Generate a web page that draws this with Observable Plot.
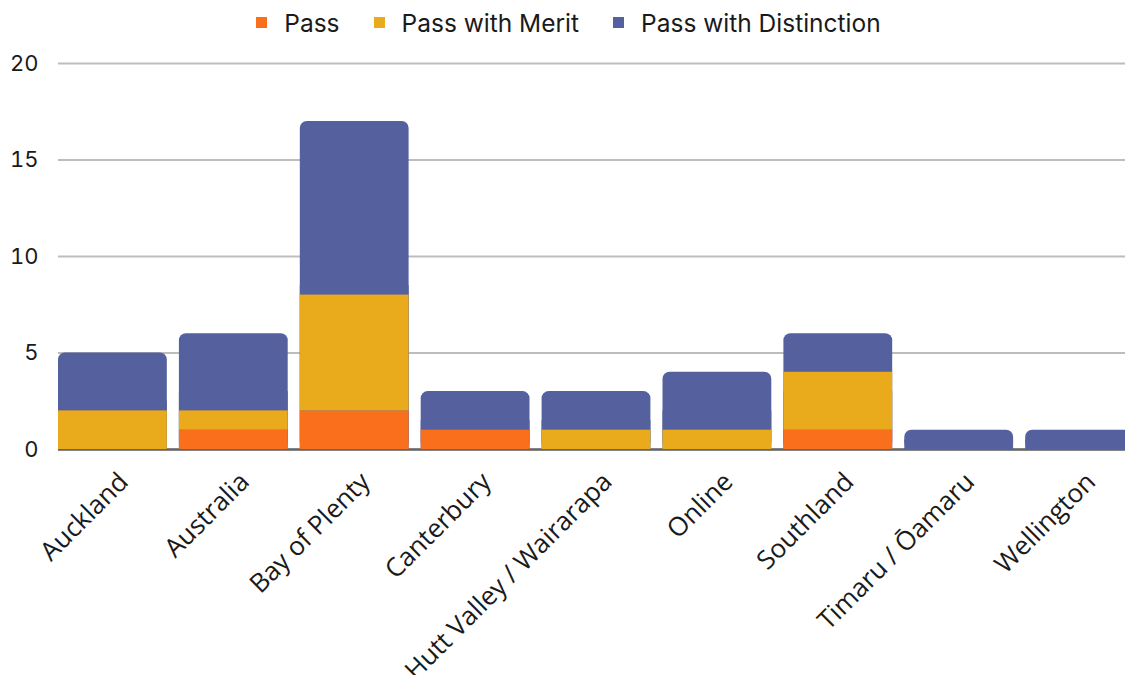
<!DOCTYPE html>
<html>
<head>
<meta charset="utf-8">
<script src="https://cdn.jsdelivr.net/npm/d3@7"></script>
<script src="https://cdn.jsdelivr.net/npm/@observablehq/plot@0.6"></script>
<style>
  html, body { margin: 0; padding: 0; background: #fff; overflow: hidden; width: 1125px; height: 675px; }
  #legend { height: 45px; display: flex; justify-content: center; align-items: center; font-family: Inter, Roboto, sans-serif; font-size: 24.5px; color: #1a1a1a; padding-left: 12px; box-sizing: border-box; }
  #legend .item { display: flex; align-items: center; margin: 0 17px; }
  #legend .sw { width: 11px; height: 11px; margin-right: 17px; }
  #chart svg { overflow: visible; }
</style>
</head>
<body>
<div id="legend"></div>
<div id="chart"></div>
<script>
const regions = ["Auckland", "Australia", "Bay of Plenty", "Canterbury", "Hutt Valley / Wairarapa", "Online", "Southland", "Timaru / Ōamaru", "Wellington"];
const grades = ["Pass", "Pass with Merit", "Pass with Distinction"];
const pass = [0, 1, 2, 1, 0, 0, 1, 0, 0];
const merit = [2, 1, 6, 0, 1, 1, 3, 0, 0];
const distinction = [3, 4, 9, 2, 2, 3, 2, 1, 1];
const colors = ["#F96F1B", "#E9AA1C", "#55619F"];
const yTicks = [0, 5, 10, 15, 20];

const series = [pass, merit, distinction];
const rows = [];
regions.forEach((r, i) => grades.forEach((g, j) => {
  if (series[j][i] > 0) rows.push({region: r, grade: g, count: series[j][i]});
}));
const totals = regions.map((r, i) => ({region: r, total: pass[i] + merit[i] + distinction[i]}));
const lower = rows.filter(d => d.grade !== grades[2]);

// legend
const leg = d3.select("#legend");
grades.forEach((g, j) => {
  const it = leg.append("div").attr("class", "item");
  it.append("div").attr("class", "sw").style("background", colors[j]);
  it.append("span").text(g);
});

const chart = Plot.plot({
  width: 1125,
  height: 630,
  marginTop: 18,
  marginLeft: 58,
  marginRight: -9,
  marginBottom: 226,
  style: {background: "transparent", overflow: "visible"},
  x: {domain: regions, paddingInner: 0.1, paddingOuter: 0, round: false, label: null},
  y: {domain: [0, 20], label: null},
  color: {domain: grades, range: colors},
  marks: [
    Plot.gridY(yTicks, {stroke: "#bdbdbd", strokeOpacity: 1, strokeWidth: 2}),
    Plot.ruleY([0], {stroke: "#666", strokeWidth: 2.5}),
    Plot.barY(totals, {x: "region", y: "total", fill: colors[2], rx: 7, ry: 7}),
    Plot.barY(totals, {x: "region", y: d => d.total / 2, fill: colors[2]}),
    Plot.barY(lower, {x: "region", y: "count", fill: "grade", order: grades}),
    Plot.axisY(yTicks, {tickSize: 0, tickPadding: 20, fontSize: 22, fontFamily: "Inter, Roboto, sans-serif", fill: "#1a1a1a", label: null}),
    Plot.axisX({tickSize: 0, tickRotate: -45, tickPadding: 14, dx: 11, dy: 14, fontSize: 26, fontFamily: "'Open Sans', sans-serif", fill: "#1a1a1a", label: null})
  ]
});
document.getElementById("chart").appendChild(chart);
</script>
</body>
</html>
